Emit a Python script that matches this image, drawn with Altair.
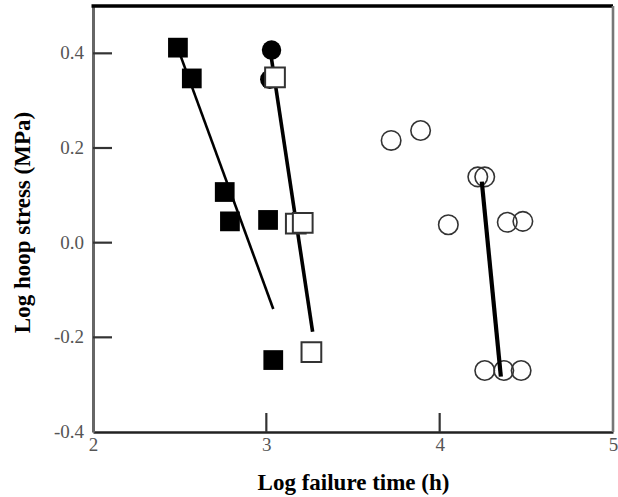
import altair as alt
import pandas as pd

# Filled squares
fs_x = [2.49, 2.57, 2.76, 2.79, 3.01, 3.04]
fs_y = [0.412, 0.347, 0.107, 0.045, 0.048, -0.248]
# Filled circles
fc_x = [3.03, 3.02]
fc_y = [0.407, 0.345]
# Open squares
os_x = [3.05, 3.17, 3.21, 3.26]
os_y = [0.349, 0.040, 0.042, -0.231]
# Open circles
oc_x = [3.72, 3.89, 4.22, 4.26, 4.05, 4.39, 4.48, 4.26, 4.37, 4.47]
oc_y = [0.216, 0.237, 0.139, 0.139, 0.038, 0.043, 0.045, -0.270, -0.270, -0.270]
# Fitted lines (end points)
fit1_x = [2.49, 3.04]
fit1_y = [0.41, -0.14]
fit2_x = [3.025, 3.267]
fit2_y = [0.40, -0.188]
fit3_x = [4.243, 4.353]
fit3_y = [0.129, -0.283]
# Inward tick positions
x_ticks = [3, 4]
y_ticks = [0.4, 0.2, 0.0, -0.2]
# Y tick labels
y_label_vals = [-0.4, -0.2, 0.0, 0.2, 0.4]
y_label_text = ["-0.4", "-0.2", "0.0", "0.2", "0.4"]

X_MIN, X_MAX = 2, 5
Y_MIN, Y_MAX = -0.4, 0.5
W, H = 520, 426
TICK = 19
FONT = "Liberation Serif"

xs = alt.Scale(domain=[X_MIN, X_MAX], nice=False, zero=False)
ys = alt.Scale(domain=[Y_MIN, Y_MAX], nice=False, zero=False)

x_axis = alt.Axis(
    values=[2, 3, 4, 5], format="d", grid=False, ticks=False,
    labelFont=FONT, labelFontSize=19, labelColor="#555", labelPadding=3,
    labelFlush=False, labelOverlap=False,
    domainColor="#222", domainWidth=2.7,
    title="Log failure time (h)", titleFont=FONT, titleFontSize=23,
    titleFontWeight="bold", titleColor="#000", titleY=57,
    titleBaseline="alphabetic",
)
y_axis = alt.Axis(
    values=y_label_vals, grid=False, ticks=False, labels=False,
    domainColor="#666", domainWidth=3,
    title="Log hoop stress (MPa)", titleFont=FONT, titleFontSize=23,
    titleFontWeight="bold", titleColor="#000", titleX=-64, titleY=216,
    titleAngle=270, titleBaseline="alphabetic", titleAlign="center",
)


def pts(xv, yv):
    return pd.DataFrame({"x": xv, "y": yv})


X = alt.X("x:Q", scale=xs, axis=x_axis)
Y = alt.Y("y:Q", scale=ys, axis=y_axis)

# Inward ticks: short segments rising from the bottom edge / reaching in from the left edge
dy = (Y_MAX - Y_MIN) * TICK / H
dx = (X_MAX - X_MIN) * TICK / W
xt_df = pd.DataFrame({"x": x_ticks, "y": [Y_MIN] * len(x_ticks), "y2": [Y_MIN + dy] * len(x_ticks)})
yt_df = pd.DataFrame({"y": y_ticks, "x": [X_MIN] * len(y_ticks), "x2": [X_MIN + dx] * len(y_ticks)})

xt = alt.Chart(xt_df).mark_rule(color="#333", strokeWidth=2.2).encode(
    x=X, y=Y, y2="y2:Q"
)
yt = alt.Chart(yt_df).mark_rule(color="#333", strokeWidth=2.2).encode(
    y="y:Q", x="x:Q", x2="x2:Q"
)

# Left-edge value labels
ylab = alt.Chart(pd.DataFrame({"y": y_label_vals, "t": y_label_text})).mark_text(
    align="right", baseline="middle", font=FONT, fontSize=19, color="#555"
).encode(y="y:Q", x=alt.value(-9), text="t:N")

filled_sq = alt.Chart(pts(fs_x, fs_y)).mark_square(
    size=390, color="black", opacity=1
).encode(x="x:Q", y="y:Q")

filled_ci = alt.Chart(pts(fc_x, fc_y)).mark_circle(
    size=380, color="black", opacity=1
).encode(x="x:Q", y="y:Q")

open_ci = alt.Chart(pts(oc_x, oc_y)).mark_point(
    shape="circle", size=380, filled=False, color="#333", strokeWidth=1.6, opacity=1
).encode(x="x:Q", y="y:Q")

line1 = alt.Chart(pts(fit1_x, fit1_y)).mark_line(
    color="black", strokeWidth=2.6
).encode(x="x:Q", y="y:Q")
line2 = alt.Chart(pts(fit2_x, fit2_y)).mark_line(
    color="black", strokeWidth=3.6
).encode(x="x:Q", y="y:Q")
line3 = alt.Chart(pts(fit3_x, fit3_y)).mark_line(
    color="black", strokeWidth=4.2
).encode(x="x:Q", y="y:Q")

open_sq = alt.Chart(pts(os_x, os_y)).mark_square(
    size=390, color="white", stroke="#333", strokeWidth=2, opacity=1
).encode(x="x:Q", y="y:Q")

one = pd.DataFrame({"k": [0]})
frame_top = alt.Chart(one).mark_rule(color="black", strokeWidth=3.5).encode(
    x=alt.value(-1.5), x2=alt.value(W), y=alt.value(0)
)
frame_right = alt.Chart(one).mark_rule(color="#777", strokeWidth=2.6).encode(
    x=alt.value(W), y=alt.value(0), y2=alt.value(H)
)

chart = alt.layer(
    xt, yt, ylab, filled_sq, filled_ci, open_ci, line1, line2, line3, open_sq,
    frame_top, frame_right,
).properties(
    width=W, height=H,
    autosize=alt.AutoSizeParams(type="none"),
    padding={"left": 93, "top": 6, "right": 5, "bottom": 65},
    background="white",
).configure_view(stroke=None)

chart.save("out.html", embed_options={"renderer": "svg", "actions": False})
